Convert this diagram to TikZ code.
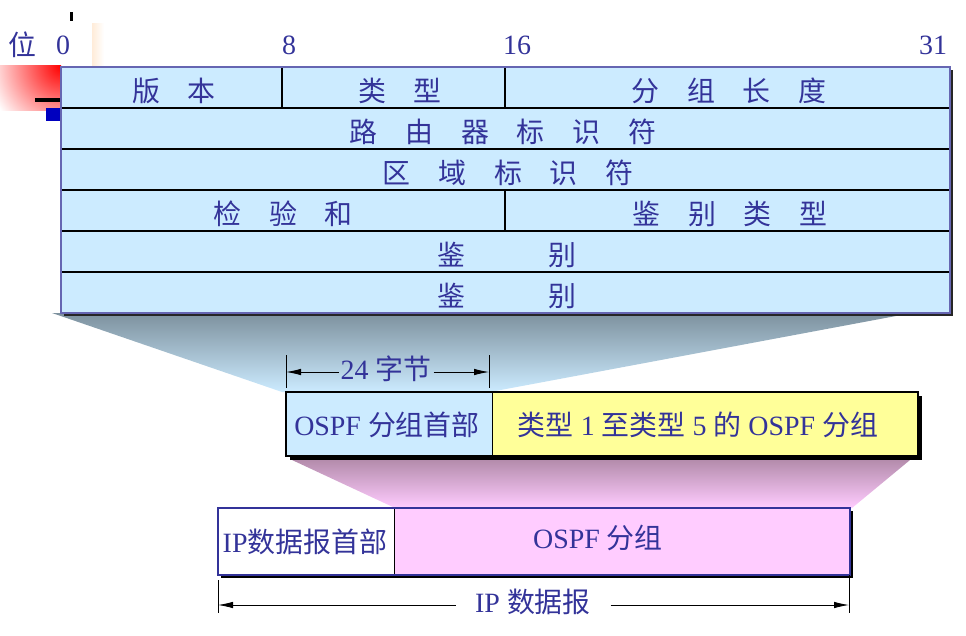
\documentclass[tikz,border=0pt]{standalone}
\usepackage{fontspec}
\setmainfont{Liberation Serif}
\newfontfamily\cjk{Noto Sans CJK SC}
\usetikzlibrary{arrows.meta}

\definecolor{fieldblue}{RGB}{204,235,255}
\definecolor{hdryellow}{RGB}{255,255,153}
\definecolor{pktpink}{RGB}{255,204,255}
\definecolor{txtblue}{RGB}{51,51,153}
\definecolor{fangray}{RGB}{125,145,158}
\definecolor{fanmauve}{RGB}{180,140,172}
\newcommand\zh[1]{{\cjk #1}}

\begin{document}
\begin{tikzpicture}[
        x=0.02cm, y=-0.02cm,
        lbl/.style={text=txtblue, font=\fontsize{15.9}{19}\selectfont, inner sep=1pt},
        rowline/.style={black, line width=0.9pt},
        tick/.style={black, line width=0.5pt},
        dimarr/.style={-{Latex[length=3mm,width=1.3mm]}, black, line width=0.5pt}
      ]
        \useasboundingbox (0,0) rectangle (966,635);

        % corner decoration of the slide
        \begin{scope}
          \clip (0,66) rectangle (61,110);
          \shade[inner color=red, outer color=white] (61,66) circle (75);
        \end{scope}
        \shade[left color=orange!15, right color=white] (92,24) rectangle (104,66);
        \fill[black] (35,98) rectangle (61,102);
        \fill[blue!75!black] (46,108) rectangle (61,121);
        \fill[black] (70,12) rectangle (73,21);

        % fans between the formats
        \shade[top color=fangray, bottom color=fieldblue] (52,313) -- (912,313) -- (490,392) -- (282,392) -- cycle;
        \shade[top color=fanmauve, bottom color=pktpink] (292,460) -- (910,460) -- (852,508) -- (395,508) -- cycle;

        % OSPF header fields
        \fill[black!85] (64,70) rectangle (953,316);
        \fill[fieldblue] (61,67) rectangle (950,313);
        \foreach \r in {1,...,5} {
          \draw[rowline] (61,{67+41*\r}) -- (950,{67+41*\r});
        }
        \draw[rowline] (282,67) -- (282,108);
        \draw[rowline] (505,67) -- (505,108);
        \draw[rowline] (505,190) -- (505,231);
        \draw[blue!50!black!60, line width=0.8pt] (61,67) rectangle (950,313);

        \node[lbl] at (22,45) {\zh{位}};
        \foreach \b/\x in {0/63,8/289,16/517,31/933} {
          \node[lbl] (bit\b) at (\x,45) {\b};
        }
        \node[lbl] (ver) at (174,91) {\zh{版\quad 本}};
        \node[lbl] (typ) at (400,91) {\zh{类\quad 型}};
        \node[lbl] (len) at (729,91) {\zh{分\quad 组\quad 长\quad 度}};
        \node[lbl] (rid) at (503,132) {\zh{路\quad 由\quad 器\quad 标\quad 识\quad 符}};
        \node[lbl] (aid) at (508,173) {\zh{区\quad 域\quad 标\quad 识\quad 符}};
        \node[lbl] (chk) at (283,214) {\zh{检\quad 验\quad 和}};
        \node[lbl] (aut) at (730,214) {\zh{鉴\quad 别\quad 类\quad 型}};
        \node[lbl] (au1) at (507,255) {\zh{鉴\qquad\quad 别}};
        \node[lbl] (au2) at (507,296) {\zh{鉴\qquad\quad 别}};

        % OSPF packet
        \fill[black] (290,396) rectangle (922,460);
        \fill[fieldblue] (286,392) rectangle (492,456);
        \fill[hdryellow] (492,392) rectangle (918,456);
        \draw[black, line width=0.5pt] (492,392) -- (492,456);
        \draw[black, line width=1.5pt] (286,392) rectangle (918,456);
        \node[lbl] (ohdr) at (387,425) {OSPF \zh{分组首部}};
        \node[lbl] (obody) at (698,425) {\zh{类型} 1 \zh{至类型} 5 \zh{的} OSPF \zh{分组}};

        \node[lbl] (w24) at (386,369) {24 \zh{字节}};
        \coordinate (w24a) at (286,372);
        \coordinate (w24b) at (489,372);
        \foreach \c in {w24a,w24b} {
          \draw[tick] (\c) ++(0,-17) -- ++(0,33);
        }
        \draw[dimarr] (w24.west |- w24a) -- (w24a);
        \draw[dimarr] (w24.east |- w24b) -- (w24b);

        % IP datagram
        \fill[black] (221,511) rectangle (853,578);
        \fill[white] (218,508) rectangle (394,575);
        \fill[pktpink] (394,508) rectangle (850,575);
        \draw[black, line width=0.5pt] (394,508) -- (394,575);
        \draw[txtblue, line width=1.5pt] (218,508) rectangle (850,575);
        \node[lbl] (iphdr) at (305,542) {IP\zh{数据报首部}};
        \node[lbl] (ipdata) at (598,538) {OSPF \zh{分组}};

        \node[lbl, inner sep=11pt] (wip) at (533,602) {IP \zh{数据报}};
        \coordinate (wipa) at (218,605);
        \coordinate (wipb) at (849,605);
        \draw[tick] (wipa) ++(0,-25) -- ++(0,33);
        \draw[tick] (wipb) ++(0,-30) -- ++(0,38);
        \draw[dimarr] (wip.west |- wipa) -- (wipa);
        \draw[dimarr] (wip.east |- wipb) -- (wipb);
      \end{tikzpicture}
\end{document}
